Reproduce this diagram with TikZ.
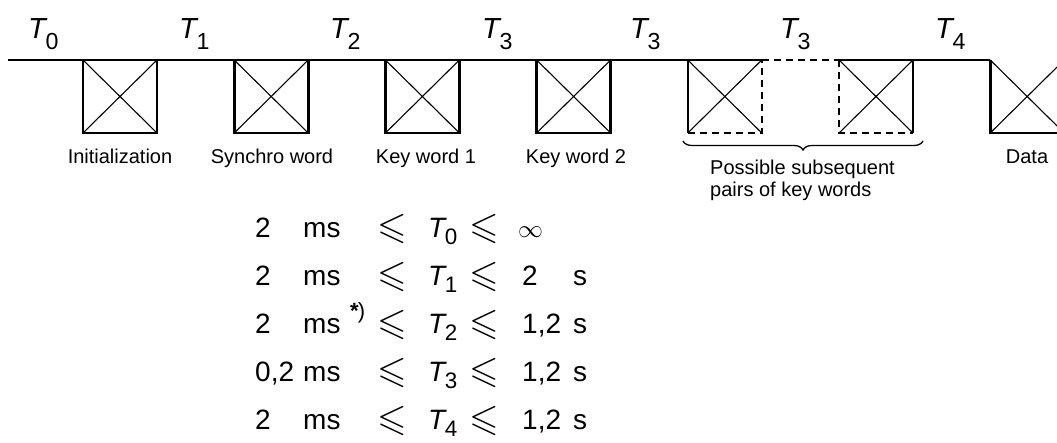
\documentclass[tikz,border=0pt]{standalone}
\usepackage{fontspec}
\usepackage{amssymb}
\usepackage{graphicx}
\setmainfont{Liberation Sans}
\usetikzlibrary{decorations.pathreplacing}
\tikzstyle{edge} = [line width=2.6pt, line join=miter]
\tikzstyle{diag} = [line width=1.1pt]
\tikzstyle{opt} = [line width=1.6pt, dash pattern=on 7pt off 5pt]
\tikzstyle{tlabel} = [anchor=base west, inner sep=0pt, font=\fontsize{29}{29}\selectfont]
\tikzstyle{wordlabel} = [anchor=base, inner sep=0pt, font=\fontsize{20}{22}\selectfont]
\tikzstyle{eq} = [anchor=base west, inner sep=0pt, font=\fontsize{28}{28}\selectfont]
\tikzstyle{rel} = [anchor=base west, inner sep=0pt, font=\fontsize{38}{38}\selectfont]
\newcommand{\Tsub}[2]{\textit{T}\kern-2pt\raisebox{-#2}{\scalebox{0.8}{#1}}}

\begin{document}
\begin{tikzpicture}[x=1pt, y=-1pt]
    \useasboundingbox (0,0) rectangle (1057,442);
    % corners of the seven word boxes
    \foreach \i in {0,...,6} {
        \coordinate (tl\i) at ({83+151.2*\i}, 60);
        \coordinate (tr\i) at ({157+151.2*\i}, 60);
        \coordinate (bl\i) at ({83+151.2*\i}, 133);
        \coordinate (br\i) at ({157+151.2*\i}, 133);
    }

    % time line
    \draw [edge] (8,60) -- (tr4);
    \draw [opt] (tr4) -- (tl5);
    \draw [edge] (tl5) -- (tl6);

    % boxes
    \foreach \i in {0,...,3}
        \draw [edge] (tl\i) -- (bl\i) -- (br\i) -- (tr\i);
    \draw [edge] (tl4) -- (bl4);
    \draw [opt] (bl4) -- (br4) -- (tr4);
    \draw [opt] (tl5) -- (bl5) -- (br5);
    \draw [edge] (br5) -- (tr5);
    \draw [edge] (tl6) -- (bl6) -- (br6);
    \foreach \i in {0,...,6}
        \draw [diag] (tl\i) -- (br\i) (bl\i) -- (tr\i);

    % times
    \node (t0) [tlabel] at (28,38) {\Tsub{0}{11pt}};
    \node (t1) [tlabel] at (179,38) {\Tsub{1}{11pt}};
    \node (t2) [tlabel] at (330,38) {\Tsub{2}{11pt}};
    \node (t3a) [tlabel] at (482,38) {\Tsub{3}{11pt}};
    \node (t3b) [tlabel] at (630,38) {\Tsub{3}{11pt}};
    \node (t3c) [tlabel] at (780,38) {\Tsub{3}{11pt}};
    \node (t4) [tlabel] at (935,38) {\Tsub{4}{11pt}};

    % word names
    \node (init) [wordlabel] at (120,163) {Initialization};
    \node (sync) [wordlabel] at (272,163) {Synchro word};
    \node (key1) [wordlabel] at (426,163) {Key word 1};
    \node (key2) [wordlabel] at (576,163) {Key word 2};
    \node (data) [wordlabel] at (1027,163) {Data};
    \draw [decorate, decoration={brace, amplitude=9pt}, line width=1.3pt] (923,141) -- (683,141);
    \node (pairs) [wordlabel, anchor=north west, align=left] at (710,160) {Possible subsequent\\pairs of key words};

    % limits
    \foreach \n/\u/\k/\v/\y in {2/ms/0/{}/237, 2/ms/1/2/285, 2/ms/2/{1,2}/333, {0,2}/ms/3/{1,2}/381, 2/ms/4/{1,2}/429} {
        \node (num\k) [eq] at (255,\y) {\n};
        \node (unit\k) [eq] at (303,\y) {\u};
        \node (lo\k) [rel] at (377,\y+1) {$\leqslant$};
        \node (tt\k) [eq] at (428,\y) {\Tsub{\k}{7pt}};
        \node (hi\k) [rel] at (469,\y+1) {$\leqslant$};
        \node (val\k) [eq] at (522,\y) {\v};
    }
    \node (inf) [eq, font=\fontsize{36}{36}\selectfont] at (518,237) {$\infty$};
    \node (note) [eq, font=\fontsize{22}{22}\selectfont] at (350,318) {\textbf{*}\kern-1pt)};
    \foreach \y in {285,333,381,429}
        \node (s\y) [eq] at (573,\y) {s};
\end{tikzpicture}
\end{document}
